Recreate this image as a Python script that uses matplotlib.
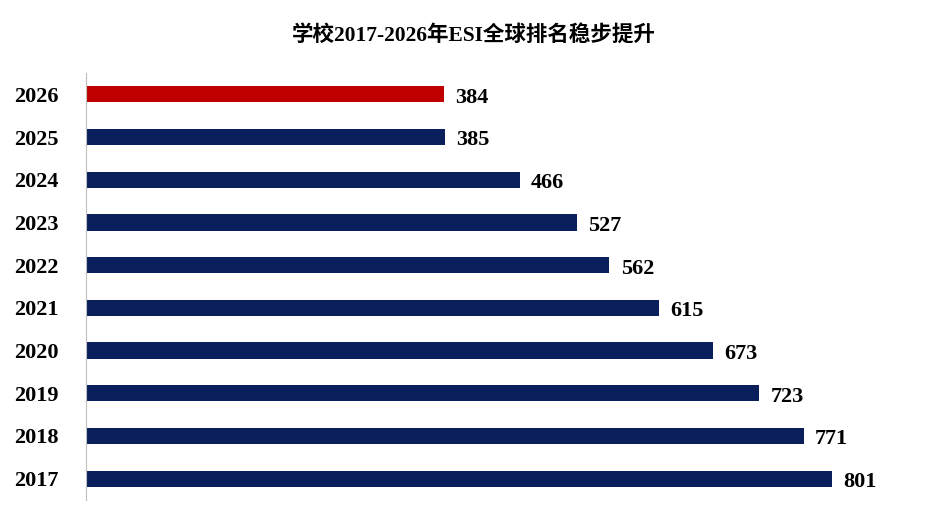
import matplotlib.pyplot as plt

# data
years = ["2017", "2018", "2019", "2020", "2021", "2022", "2023", "2024", "2025", "2026"]
ranks = [801, 771, 723, 673, 615, 562, 527, 466, 385, 384]
colors = ["#0a1f5c"] * 9 + ["#c00000"]

plt.rcParams['font.family'] = ['Liberation Serif', 'Noto Sans CJK SC']

fig = plt.figure(figsize=(9.47, 5.23), dpi=100)
ax = fig.add_axes([86 / 947, 23 / 523, 814 / 947, 427 / 523])

ax.barh(range(len(years)), ranks, height=0.38, color=colors)
for i, v in enumerate(ranks):
    ax.text(v + 12, i - 0.08, str(v), va="center", ha="left",
            fontsize=16, fontweight="bold")

ax.set_yticks(range(len(years)))
ax.set_yticklabels(years, fontsize=16, fontweight="bold")
ax.set_xlim(0, 874)
ax.set_ylim(-0.5, 9.5)
ax.set_xticks([])
ax.tick_params(axis="y", length=0, pad=20)
for s in ["top", "right", "bottom"]:
    ax.spines[s].set_visible(False)
ax.spines["left"].set_color("#bfbfbf")

fig.text(0.5, 1 - 35 / 523, "学校2017-2026年ESI全球排名稳步提升",
         ha="center", va="center", fontsize=15.5, fontweight="bold",
         family=['Liberation Serif', 'Noto Sans CJK SC'])

fig.savefig("out.png")
